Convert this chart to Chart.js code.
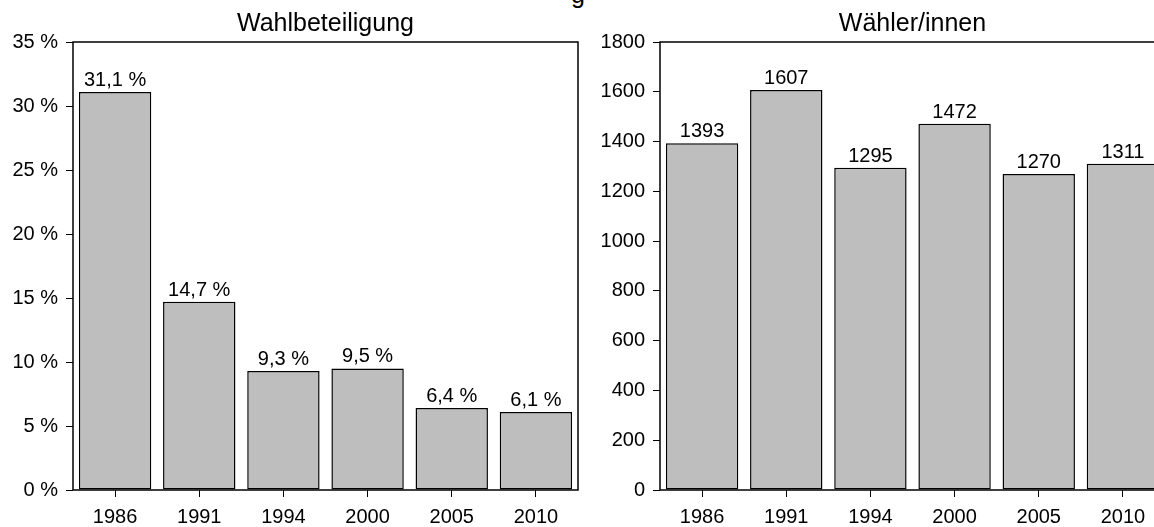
<!DOCTYPE html>
<html>
<head>
<meta charset="utf-8">
<script src="https://cdn.jsdelivr.net/npm/chart.js@4/dist/chart.umd.min.js"></script>
<style>
  body { margin: 0; width: 1154px; height: 527px; overflow: hidden; background: #fff; position: relative; }
  canvas { position: absolute; top: 0; }
  #left { left: 0; }
  #right { left: 587px; }
  #cut { position: absolute; left: 571px; top: -18px; font: 25px "Liberation Sans", Arial, sans-serif; line-height: 25px; }
</style>
</head>
<body>
<div id="cut">g</div>
<canvas id="left" width="587" height="527"></canvas>
<canvas id="right" width="587" height="527"></canvas>
<script>
const years = ["1986", "1991", "1994", "2000", "2005", "2010"];
const turnout = [31.1, 14.7, 9.3, 9.5, 6.4, 6.1];
const voters = [1393, 1607, 1295, 1472, 1270, 1311];

const FONT = "'Liberation Sans', Arial, Helvetica, sans-serif";

// frame around plot area + title + value labels
const decor = {
  id: "decor",
  afterDatasetsDraw(chart, args, opts) {
    const ctx = chart.ctx;
    const area = chart.chartArea;
    ctx.save();
    ctx.fillStyle = "#000";
    ctx.font = "20px " + FONT;
    ctx.textAlign = "center";
    ctx.textBaseline = "alphabetic";
    chart.getDatasetMeta(0).data.forEach((bar, i) => {
      ctx.fillText(opts.fmt(chart.data.datasets[0].data[i]), bar.x, bar.y - 6);
    });
    ctx.strokeStyle = "#000";
    ctx.lineWidth = 1.5;
    ctx.strokeRect(area.left, area.top, area.right - area.left, area.bottom - area.top);
    ctx.font = "25px " + FONT;
    ctx.textBaseline = "middle";
    ctx.fillText(opts.title, (area.left + area.right) / 2, 24);
    ctx.restore();
  }
};

function makeChart(id, values, title, max, step, tickFmt, valFmt) {
  return new Chart(document.getElementById(id), {
    type: "bar",
    data: {
      labels: years,
      datasets: [{
        data: values,
        backgroundColor: "#bebebe",
        borderColor: "#000",
        borderWidth: 1.5,
        borderSkipped: false,
        barPercentage: 0.86,
        categoryPercentage: 1
      }]
    },
    options: {
      responsive: false,
      animation: false,
      layout: { padding: { top: 42, right: 9, left: 0, bottom: 0 } },
      plugins: {
        legend: { display: false },
        tooltip: { enabled: false },
        decor: { title: title, fmt: valFmt }
      },
      scales: {
        x: {
          grid: { offset: false, drawOnChartArea: false, tickLength: 7, color: "#000" },
          border: { display: false },
          ticks: { color: "#000", font: { size: 20, family: FONT }, padding: 8, maxRotation: 0 },
          afterFit(scale) { scale.height = 37; }
        },
        y: {
          min: 0,
          max: max,
          grid: { drawOnChartArea: false, tickLength: 7, color: "#000" },
          border: { display: false },
          ticks: {
            stepSize: step,
            color: "#000",
            font: { size: 20, family: FONT },
            padding: 8,
            callback: tickFmt
          },
          afterFit(scale) { scale.width = 73; }
        }
      }
    },
    plugins: [decor]
  });
}

makeChart("left", turnout, "Wahlbeteiligung", 35, 5,
  v => v + " %",
  v => v.toFixed(1).replace(".", ",") + " %");

makeChart("right", voters, "Wähler/innen", 1800, 200,
  v => String(v),
  v => String(v));
</script>
</body>
</html>
